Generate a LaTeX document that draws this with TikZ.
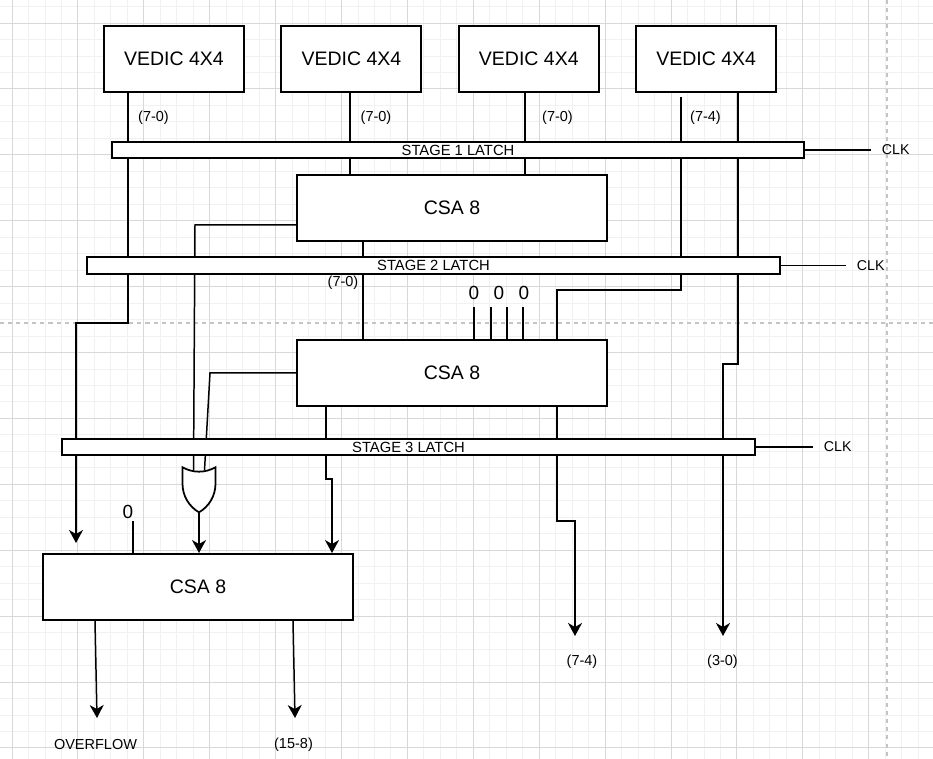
\documentclass[tikz,border=0pt]{standalone}
\usepackage{fontspec}
\setmainfont{Liberation Sans}
\usepackage{tikz}
\usetikzlibrary{arrows.meta, positioning, calc, backgrounds, shapes.gates.logic.US}
\pgfdeclarelayer{gridlayer}
\pgfsetlayers{gridlayer,background,main}
\definecolor{gridminor}{RGB}{241,241,241}
\definecolor{gridmajor}{RGB}{216,216,216}
\definecolor{pagebreak}{RGB}{196,196,196}
\tikzset{
    vedicbox/.style={rectangle, draw=black, fill=white, line width=1.1pt, minimum width=2.8cm, minimum height=1.32cm, inner sep=0pt, font=\fontsize{11.1}{13}\selectfont},
    csabox/.style={rectangle, draw=black, fill=white, line width=1.1pt, minimum width=6.2cm, minimum height=1.32cm, inner sep=0pt, font=\fontsize{11.1}{13}\selectfont},
    latchbar/.style={rectangle, draw=black, fill=white, line width=1.1pt, minimum width=13.86cm, minimum height=0.33cm, inner sep=0pt, font=\fontsize{8.4}{9}\selectfont},
    orbox/.style={or gate US, draw=black, fill=white, line width=1pt, rotate=-90, minimum width=0.54cm, minimum height=0.66cm, inner sep=0pt},
    wire/.style={line width=0.85pt},
    buswire/.style={line width=0.85pt, -{Stealth[length=2.6mm, width=2.8mm, inset=0.8mm]}},
    bitlabel/.style={font=\fontsize{8.25}{10}\selectfont, inner sep=0pt},
    zerolabel/.style={font=\fontsize{10.8}{12}\selectfont, inner sep=0pt},
    clklabel/.style={font=\fontsize{8.1}{10}\selectfont, anchor=west, inner xsep=6pt, inner ysep=0pt}
}

\begin{document}
\begin{tikzpicture}[x=0.02cm, y=-0.02cm]
\useasboundingbox (0,0) rectangle (933,759);

% background grid and page breaks
\begin{pgfonlayer}{gridlayer}
\fill[white] (0,0) rectangle (933,759);
\foreach \i in {0,...,56} \draw[gridminor, line width=0.5pt] (12+16.475*\i,0) -- (12+16.475*\i,759);
\foreach \i in {-1,...,45} \draw[gridminor, line width=0.5pt] (0,23+16.475*\i) -- (933,23+16.475*\i);
\foreach \i in {0,...,14} \draw[gridmajor, line width=0.5pt] (12+65.9*\i,0) -- (12+65.9*\i,759);
\foreach \i in {0,...,11} \draw[gridmajor, line width=0.5pt] (0,23+65.9*\i) -- (933,23+65.9*\i);
\draw[pagebreak, line width=0.6pt, dash pattern=on 2.3pt off 2.3pt] (0,323) -- (933,323);
\draw[pagebreak, line width=0.6pt, dash pattern=on 2.3pt off 2.3pt] (887,0) -- (887,759);
\end{pgfonlayer}

% multipliers
\node[vedicbox] (v1) at (174,59) {VEDIC 4X4};
\node[vedicbox, right=0.71cm of v1] (v2) {VEDIC 4X4};
\node[vedicbox, right=0.71cm of v2] (v3) {VEDIC 4X4};
\node[vedicbox, right=0.71cm of v3] (v4) {VEDIC 4X4};

% pipeline latches
\node[latchbar] (latch1) at (458,150) {STAGE 1 LATCH};
\node[latchbar] (latch2) at (433.5,265.5) {STAGE 2 LATCH};
\node[latchbar] (latch3) at (408.5,447) {STAGE 3 LATCH};
\node[clklabel] (clk1) at (871,150) {CLK};
\node[clklabel] (clk2) at (846,265.5) {CLK};
\node[clklabel] (clk3) at (813,447) {CLK};

% adders
\node[csabox] (csa1) at (452,208) {CSA 8};
\node[csabox] (csa2) at (452,373) {CSA 8};
\node[csabox] (csa3) at (198,587) {CSA 8};
\node[orbox] (orgate) at (199,486.5) {};

% bit ranges
\node[bitlabel] (b1) at (153.5,118) {(7-0)};
\node[bitlabel] (b2) at (376,118) {(7-0)};
\node[bitlabel] (b3) at (557.5,118) {(7-0)};
\node[bitlabel] (b4) at (705.5,118) {(7-4)};
\node[bitlabel] (b5) at (343,283) {(7-0)};
\node[zerolabel] (z1) at (474,293) {0};
\node[zerolabel] (z2) at (499,293) {0};
\node[zerolabel] (z3) at (524,293) {0};
\node[zerolabel] (z4) at (128,512) {0};
\node[bitlabel] (o1) at (582,662) {(7-4)};
\node[bitlabel] (o2) at (722.5,662) {(3-0)};
\node[bitlabel] (o3) at (95.5,745) {OVERFLOW};
\node[bitlabel] (o4) at (293.5,745) {(15-8)};

\coordinate (v4tap) at (681,97);
\coordinate (q70) at (76,543);
\coordinate (q74) at (575,636);
\coordinate (q30) at (723,636);
\coordinate (qovf) at (97,718);
\coordinate (q158) at (295,718);

\begin{scope}[on background layer]
\draw[buswire] (v1.south -| 128,0) -- (128,323) -| (q70);
\draw[wire] (v2.south -| 350,0) -- (csa1.north -| 350,0);
\draw[wire] (v3.south -| 525,0) -- (csa1.north -| 525,0);
\draw[wire] (v4tap) |- (557,290) -- (csa2.north -| 557,0);
\draw[buswire] (v4.south -| 738,0) -- (738,364) -- (723,364) -- (q30);
\draw[wire] (csa1.south -| 363,0) -- (363,343);
\draw[wire] (csa1.west |- 0,225) -- (195,225) -- (orgate.input 2);
\draw[wire] (csa2.west) -- (210,373) -- (orgate.input 1);
\draw[buswire] (orgate.output) -- (csa3.north -| orgate.output);
\draw[buswire] (csa2.south -| 326,0) -- (326,479) -- (332,479) -- (csa3.north -| 332,0);
\draw[buswire] (csa2.south -| 557,0) -- (557,521) -- (575,521) -- (q74);
\foreach \x in {474,491,507,523} \draw[wire] (\x,307) -- (csa2.north -| \x,0);
\draw[wire] (133,521) -- (csa3.north -| 133,0);
\draw[buswire] (csa3.south -| 95,0) -- (qovf);
\draw[buswire] (csa3.south -| 293,0) -- (q158);
\draw[wire] (latch1.east) -- (clk1.west);
\draw[wire] (latch2.east) -- (clk2.west);
\draw[wire] (latch3.east) -- (clk3.west);
\end{scope}
\end{tikzpicture}
\end{document}
